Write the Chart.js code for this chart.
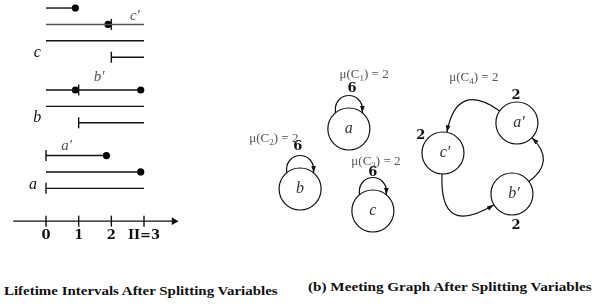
<!DOCTYPE html>
<html>
<head>
<meta charset="utf-8">
<script src="https://cdn.jsdelivr.net/npm/chart.js@4.4.0/dist/chart.umd.min.js"></script>
<style>
    html, body { margin: 0; padding: 0; background: #fff; width: 611px; height: 304px; overflow: hidden; }
    #left { position: absolute; left: 0; top: 0; width: 220px; height: 250px; }
    #right { position: absolute; left: 230px; top: 0; width: 381px; height: 250px; }
    .cap { position: absolute; font-family: 'Liberation Serif', serif; font-weight: bold; font-size: 13px; white-space: nowrap; color: #111; line-height: 1; transform-origin: 0 50%; }
</style>
</head>
<body>
<div id="left"><canvas id="intervals"></canvas></div>
<div id="right"><canvas id="meeting"></canvas></div>
<div class="cap" id="capA" data-w="275" data-cy="291" style="left:4px">Lifetime Intervals After Splitting Variables</div>
<div class="cap" id="capB" data-w="285" data-cy="287" style="left:308px">(b) Meeting Graph After Splitting Variables</div>
<script>
// ---- Lifetime intervals (left) ----
const rowPos   = [0, 1, 2, 3, 5, 6, 7, 9, 10, 11];
const rowStart = [0, 0, 0, 2, 0, 0, 1, 0, 0, 0];
const rowEnd   = [0.9, 3, 3, 3, 2.9, 3, 3, 1.85, 2.9, 3];
const dotRow   = [0, 1, 5, 5, 9, 10];
const dotAt    = [0.9, 1.9, 0.9, 2.9, 1.85, 2.9];
const barRow   = [1, 3, 5, 7, 9, 11];
const barAt    = [2, 2, 1, 1, 0, 0];
const axisTicks  = [0, 1, 2, 3];
const axisLabels = ['0', '1', '2', 'II=3'];
const AXIS_ROW = 13;
const varNames = ['c', 'b', 'a'];
const varX     = [-0.27, -0.27, -0.4];
const varY     = [2.75, 6.7, 10.8];
const splitNames = ['c\u2032', 'b\u2032', 'a\u2032'];
const splitX     = [2.72, 1.63, 0.63];
const splitY     = [0.5, 4.2, 8.45];

// ---- Meeting graph (right) ----
const nodeNames = ['a', 'b', 'c', 'a\u2032', 'c\u2032', 'b\u2032'];
const nodeX = [3.12, 1.84, 3.75, 7.53, 5.59, 7.40];
const nodeY = [4.84, 2.44, 1.56, 5.08, 3.88, 2.24];
const loopNodes = [0, 1, 2];
const loopWeight = ['6', '6', '6'];
const loopWX = [3.20, 1.78, 3.75];
const loopWY = [6.44, 4.12, 3.08];
const edgeFrom = [3, 4, 5];
const edgeTo   = [4, 5, 3];
const cycleWeight = ['2', '2', '2'];
const cycleWX = [7.51, 5.01, 7.51];
const cycleWY = [6.16, 4.56, 0.96];
const muSub = ['1', '2', '3', '4'];
const muValue = [2, 2, 2, 2];
const muX = [3.52, 1.15, 3.83, 6.40];
const muY = [7.0, 4.44, 3.52, 6.88];

const SERIF = '"Liberation Serif", "DejaVu Serif", serif';
const NODE_R = 21;
const LOOP_R = 13.5;
const edgeBend = [62, 75, 42];
const grayRows = [1];

function arrowHead(ctx, tx, ty, ang, len, half) {
    ctx.beginPath();
    ctx.moveTo(tx, ty);
    ctx.lineTo(tx - len * Math.cos(ang) + half * Math.sin(ang), ty - len * Math.sin(ang) - half * Math.cos(ang));
    ctx.lineTo(tx - len * Math.cos(ang) - half * Math.sin(ang), ty - len * Math.sin(ang) + half * Math.cos(ang));
    ctx.closePath();
    ctx.fill();
}

// "mu(C_k) = v" with a real subscript, centred on (cx, cy)
function drawMu(ctx, sub, val, cx, cy) {
    const big = '13px ' + SERIF, small = '9px ' + SERIF;
    const parts = [['\u03bc(C', big, 0], [sub, small, 3.5], [') = ' + val, big, 0]];
    let total = 0;
    parts.forEach(p => { ctx.font = p[1]; total += ctx.measureText(p[0]).width; });
    let px = cx - total / 2;
    ctx.textAlign = 'left';
    parts.forEach(p => {
        ctx.font = p[1];
        ctx.fillText(p[0], px, cy + p[2]);
        px += ctx.measureText(p[0]).width;
    });
    ctx.textAlign = 'center';
}

const baseOptions = (xr, yr, reverse) => ({
    responsive: true,
    maintainAspectRatio: false,
    animation: false,
    events: [],
    layout: { padding: 0, autoPadding: false },
    plugins: { legend: { display: false }, tooltip: { enabled: false } },
    scales: {
        x: { type: 'linear', display: false, min: xr[0], max: xr[1] },
        y: { type: 'linear', display: false, reverse, min: yr[0], max: yr[1] }
    }
});

// left chart datasets
const leftSets = rowPos.map((r, i) => ({
    type: 'line',
    data: [{ x: rowStart[i], y: r }, { x: rowEnd[i], y: r }],
    borderColor: grayRows.includes(i) ? '#555' : '#111',
    borderWidth: 1.4,
    pointRadius: 0
}));
leftSets.push({
    type: 'line',
    data: [{ x: -1, y: AXIS_ROW }, { x: 3.9, y: AXIS_ROW }],
    borderColor: '#111', borderWidth: 1.3, pointRadius: 0
});
leftSets.push({
    type: 'scatter',
    data: [{ x: 3.92, y: AXIS_ROW }],
    pointStyle: 'triangle', rotation: 90, pointRadius: 4.5,
    backgroundColor: '#111', borderColor: '#111', borderWidth: 0
});
leftSets.push({
    type: 'scatter',
    data: axisTicks.map(t => ({ x: t, y: AXIS_ROW })).concat(barAt.map((b, i) => ({ x: b, y: barRow[i] }))),
    pointStyle: 'line', rotation: 90, pointRadius: 5.5,
    borderColor: '#111', borderWidth: 1.4
});
leftSets.push({
    type: 'scatter',
    data: dotAt.map((d, i) => ({ x: d, y: dotRow[i] })),
    pointRadius: 3.6, backgroundColor: '#000', borderWidth: 0
});

const intervalText = {
    id: 'intervalText',
    afterDatasetsDraw(chart) {
        const { ctx, scales: { x, y } } = chart;
        ctx.save();
        ctx.textAlign = 'center';
        ctx.textBaseline = 'middle';
        ctx.fillStyle = '#111';
        ctx.font = 'bold 13px "DejaVu Serif", serif';
        axisTicks.forEach((t, i) => ctx.fillText(axisLabels[i], x.getPixelForValue(t), y.getPixelForValue(AXIS_ROW) + 14));
        ctx.font = 'italic 16px ' + SERIF;
        varNames.forEach((n, i) => ctx.fillText(n, x.getPixelForValue(varX[i]), y.getPixelForValue(varY[i])));
        ctx.fillStyle = '#555';
        ctx.font = 'italic 15px ' + SERIF;
        splitNames.forEach((n, i) => ctx.fillText(n, x.getPixelForValue(splitX[i]), y.getPixelForValue(splitY[i])));
        ctx.restore();
    }
};

new Chart(document.getElementById('intervals'), {
    type: 'scatter',
    data: { datasets: leftSets },
    options: baseOptions([-1.408, 5.326], [-0.49, 14.76], true),
    plugins: [intervalText]
});

// right chart: curves under the nodes, arrowheads and text on top
const graphDraw = {
    id: 'graphDraw',
    beforeDatasetsDraw(chart) {
        const { ctx, scales: { x, y } } = chart;
        ctx.save();
        ctx.strokeStyle = '#111';
        ctx.lineWidth = 1.2;
        loopNodes.forEach(n => {
            const cx = x.getPixelForValue(nodeX[n]), cy = y.getPixelForValue(nodeY[n]);
            ctx.beginPath();
            ctx.moveTo(cx - LOOP_R, cy - 14);
            ctx.arc(cx, cy - 20, LOOP_R, Math.PI, Math.PI * 2);
            ctx.lineTo(cx + LOOP_R, cy - 15);
            ctx.stroke();
        });
        chart.$edges = [];
        const gx = edgeFrom.reduce((s, k) => s + x.getPixelForValue(nodeX[k]), 0) / edgeFrom.length;
        const gy = edgeFrom.reduce((s, k) => s + y.getPixelForValue(nodeY[k]), 0) / edgeFrom.length;
        edgeFrom.forEach((f, i) => {
            const ax = x.getPixelForValue(nodeX[f]), ay = y.getPixelForValue(nodeY[f]);
            const t = edgeTo[i];
            const bx = x.getPixelForValue(nodeX[t]), by = y.getPixelForValue(nodeY[t]);
            // bend away from the centre of the cycle
            const mx = (ax + bx) / 2, my = (ay + by) / 2;
            let nx = -(by - ay), ny = bx - ax;
            const nl = Math.hypot(nx, ny);
            nx /= nl; ny /= nl;
            if (nx * (mx - gx) + ny * (my - gy) < 0) { nx = -nx; ny = -ny; }
            const qx = mx + nx * edgeBend[i], qy = my + ny * edgeBend[i];
            const da = Math.hypot(qx - ax, qy - ay), db = Math.hypot(qx - bx, qy - by);
            const sx = ax + (qx - ax) / da * NODE_R, sy = ay + (qy - ay) / da * NODE_R;
            const ex = bx + (qx - bx) / db * NODE_R, ey = by + (qy - by) / db * NODE_R;
            ctx.beginPath();
            ctx.moveTo(sx, sy);
            ctx.quadraticCurveTo(qx, qy, ex, ey);
            ctx.stroke();
            chart.$edges.push({ ex, ey, ang: Math.atan2(ey - qy, ex - qx) });
        });
        ctx.restore();
    },
    afterDatasetsDraw(chart) {
        const { ctx, scales: { x, y } } = chart;
        ctx.save();
        ctx.fillStyle = '#111';
        loopNodes.forEach(n => {
            const cx = x.getPixelForValue(nodeX[n]), cy = y.getPixelForValue(nodeY[n]);
            arrowHead(ctx, cx + LOOP_R, cy - 16, Math.PI / 2, 7, 2.3);
        });
        (chart.$edges || []).forEach(e => arrowHead(ctx, e.ex, e.ey, e.ang, 7, 2.3));

        ctx.textAlign = 'center';
        ctx.textBaseline = 'middle';
        ctx.font = 'italic 16px ' + SERIF;
        ctx.fillStyle = '#333';
        nodeNames.forEach((n, i) => ctx.fillText(n, x.getPixelForValue(nodeX[i]) + (i > 2 ? 2 : 0), y.getPixelForValue(nodeY[i])));

        ctx.fillStyle = '#111';
        ctx.font = 'bold 13px "DejaVu Serif", serif';
        loopWeight.forEach((w, i) => ctx.fillText(w, x.getPixelForValue(loopWX[i]), y.getPixelForValue(loopWY[i])));
        cycleWeight.forEach((w, i) => ctx.fillText(w, x.getPixelForValue(cycleWX[i]), y.getPixelForValue(cycleWY[i])));

        ctx.fillStyle = '#555';
        muSub.forEach((s, i) => drawMu(ctx, s, muValue[i], x.getPixelForValue(muX[i]), y.getPixelForValue(muY[i])));
        ctx.restore();
    }
};

new Chart(document.getElementById('meeting'), {
    type: 'scatter',
    data: {
        datasets: [{
            data: nodeX.map((v, i) => ({ x: v, y: nodeY[i] })),
            pointRadius: NODE_R,
            backgroundColor: '#fff',
            borderColor: '#111',
            borderWidth: 1.2
        }]
    },
    options: baseOptions([0, 10], [0, 10], false),
    plugins: [graphDraw]
});

// captions: stretch horizontally so each caption spans its width in the reference
const measure = document.createElement('canvas').getContext('2d');
document.querySelectorAll('.cap').forEach(el => {
    measure.font = 'bold 13px "Liberation Serif", serif';
    const w = measure.measureText(el.textContent).width;
    el.style.transform = 'scaleX(' + (Number(el.dataset.w) / w).toFixed(4) + ')';
    el.style.top = (Number(el.dataset.cy) - 7).toFixed(1) + 'px';
});
</script>
</body>
</html>
